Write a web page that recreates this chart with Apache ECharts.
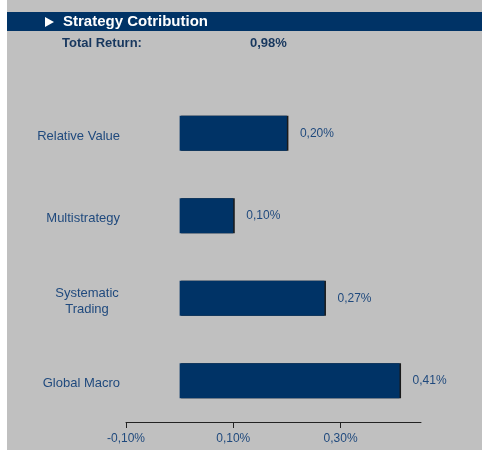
<!DOCTYPE html>
<html>
<head>
<meta charset="utf-8">
<script src="https://cdn.jsdelivr.net/npm/echarts@6/dist/echarts.min.js"></script>
<style>
  html, body { margin: 0; padding: 0; background: #fff; }
  #chart { width: 482px; height: 450px; }
</style>
</head>
<body>
<div id="chart"></div>
<script>
// Strategy contribution, horizontal bars (values in %)
const TITLE = 'Strategy Cotribution';
const TOTAL_LABEL = 'Total Return:';
const TOTAL_VALUE = 0.98;

const CATEGORIES = ['Relative Value', 'Multistrategy', 'Systematic\nTrading', 'Global Macro'];
const CONTRIB = [0.20, 0.10, 0.27, 0.41];
const X_TICKS = [-0.10, 0.10, 0.30];

const NAVY = '#003366';
const TEXT = '#1F497D';
const FONT = '"Liberation Sans", Arial, sans-serif';

const pct = v => v.toFixed(2).replace('.', ',') + '%';

const chart = echarts.init(document.getElementById('chart'));

chart.setOption({
  backgroundColor: '#fff',
  animation: false,
  textStyle: { fontFamily: FONT },
  graphic: [
    // grey panel + header band
    { type: 'rect', z: -10, shape: { x: 7, y: 0, width: 475, height: 450 }, style: { fill: '#C0C0C0' } },
    { type: 'rect', z: -9, shape: { x: 7, y: 12, width: 475, height: 19 }, style: { fill: NAVY } },
    { type: 'polygon', shape: { points: [[45, 17], [45, 27], [54, 22]] }, style: { fill: '#fff' } },
    { type: 'text', left: 63, top: 14, style: { text: TITLE, fill: '#fff', font: 'bold 15px ' + FONT } },
    { type: 'text', left: 62, top: 37, style: { text: TOTAL_LABEL, fill: '#17375E', font: 'bold 13px ' + FONT } },
    { type: 'text', left: 250, top: 37, style: { text: pct(TOTAL_VALUE), fill: '#17375E', font: 'bold 13px ' + FONT } }
  ],
  grid: { left: 126, right: 61, top: 92, bottom: 28, containLabel: false },
  xAxis: {
    type: 'value',
    min: -0.10,
    max: 0.45,
    axisLine: { show: true, lineStyle: { color: '#222', width: 1 } },
    axisTick: { show: true, length: 6, customValues: X_TICKS, lineStyle: { color: '#222' } },
    axisLabel: {
      customValues: X_TICKS,
      formatter: v => pct(v),
      color: TEXT,
      fontSize: 12,
      fontFamily: FONT,
      margin: 11
    },
    splitLine: { show: false }
  },
  yAxis: {
    type: 'category',
    inverse: true,
    data: CATEGORIES,
    axisLine: { show: false, onZero: false },
    axisTick: { show: false },
    axisLabel: {
      margin: 6,
      color: TEXT,
      fontSize: 13,
      fontFamily: FONT,
      lineHeight: 16,
      padding: [6, 0, 0, 0],
      formatter: v => v.includes('\n') ? v.split('\n').map(s => '{c|' + s + '}').join('\n') : v,
      rich: {
        c: { width: 66, align: 'center', color: TEXT, fontSize: 13, fontFamily: FONT, lineHeight: 16 }
      }
    }
  },
  series: [{
    type: 'bar',
    data: CONTRIB,
    barWidth: 35,
    itemStyle: {
      color: NAVY,
      shadowColor: '#1a1a1a',
      shadowOffsetX: 1.5,
      shadowOffsetY: 0,
      shadowBlur: 0
    },
    label: {
      show: true,
      position: 'right',
      distance: 13,
      formatter: p => pct(p.value),
      color: TEXT,
      fontSize: 12,
      fontFamily: FONT
    }
  }]
});
</script>
</body>
</html>
